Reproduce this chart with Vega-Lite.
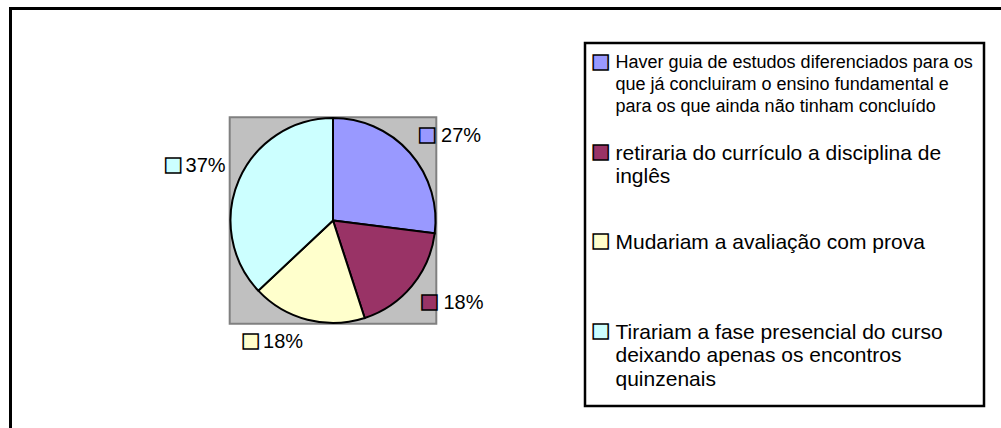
{
  "$schema": "https://vega.github.io/schema/vega-lite/v6.json",
  "background": "white",
  "padding": {"left": 7, "top": 5, "right": 0, "bottom": 0},
  "bounds": "flush",
  "spacing": 61,
  "config": {"view": {"stroke": null}, "font": "Liberation Sans", "text": {"font": "Liberation Sans"}},
  "datasets": {
    "respostas": [
      {"item": "Haver guia de estudos diferenciados para os\nque já concluiram o ensino fundamental e\npara os que ainda não tinham concluído", "pct": 0.27, "rank": 1},
      {"item": "retiraria do currículo a disciplina de\ninglês", "pct": 0.18, "rank": 2},
      {"item": "Mudariam a avaliação com prova", "pct": 0.18, "rank": 3},
      {"item": "Tirariam a fase presencial do curso\ndeixando apenas os encontros\nquinzenais", "pct": 0.37, "rank": 4}
    ]
  },
  "hconcat": [
    {
      "width": 382,
      "height": 355,
      "data": {"name": "respostas"},
      "layer": [
        {
          "data": {"values": [{"edge": "top"}]},
          "mark": {"type": "rule", "stroke": "black", "strokeWidth": 3, "clip": false},
          "encoding": {"x": {"value": -133}, "x2": {"value": 859.5}, "y": {"value": -34.5}}
        },
        {
          "data": {"values": [{"edge": "left"}]},
          "mark": {"type": "rule", "stroke": "black", "strokeWidth": 3, "clip": false},
          "encoding": {"x": {"value": -131.5}, "y": {"value": -36}, "y2": {"value": 385.5}}
        },
        {
          "data": {"values": [{"plot": "area"}]},
          "mark": {"type": "point", "shape": "square", "size": 42684, "filled": true, "fill": "#C0C0C0", "stroke": "#808080", "strokeWidth": 2, "opacity": 1},
          "encoding": {}
        },
        {
          "mark": {"type": "arc", "outerRadius": 102.5, "stroke": "black", "strokeWidth": 2},
          "encoding": {
            "theta": {"field": "pct", "type": "quantitative", "stack": true},
            "order": {"field": "rank", "type": "quantitative"},
            "color": {"field": "rank", "type": "nominal", "scale": {"domain": [1, 2, 3, 4], "range": ["#9999FF", "#993366", "#FFFFCC", "#CCFFFF"]}, "legend": null}
          }
        },
        {
          "mark": {"type": "text", "text": "■", "radius": 116, "fontSize": 31, "stroke": "black", "strokeWidth": 1.5, "baseline": "middle", "align": "center",
            "dx": {"expr": "sin(PI*(datum.pct_start+datum.pct_end)) > 0 ? 7 : -53.5"},
            "dy": {"expr": "cos(PI*(datum.pct_start+datum.pct_end)) > 0 ? -8 : 9"}},
          "encoding": {
            "theta": {"field": "pct", "type": "quantitative", "stack": true},
            "order": {"field": "rank", "type": "quantitative"},
            "color": {"field": "rank", "type": "nominal", "scale": {"domain": [1, 2, 3, 4], "range": ["#9999FF", "#993366", "#FFFFCC", "#CCFFFF"]}, "legend": null}
          }
        },
        {
          "mark": {"type": "text", "radius": 116, "fontSize": 20, "fill": "black", "baseline": "middle",
            "align": {"expr": "sin(PI*(datum.pct_start+datum.pct_end)) > 0 ? 'left' : 'right'"},
            "dx": {"expr": "sin(PI*(datum.pct_start+datum.pct_end)) > 0 ? 21 : -1"},
            "dy": {"expr": "cos(PI*(datum.pct_start+datum.pct_end)) > 0 ? -8 : 9"}},
          "encoding": {
            "theta": {"field": "pct", "type": "quantitative", "stack": true},
            "order": {"field": "rank", "type": "quantitative"},
            "text": {"field": "pct", "type": "quantitative", "format": ".0%"}
          }
        }
      ]
    },
    {
      "width": 399,
      "height": 363,
      "view": {"stroke": "black", "strokeWidth": 2.5, "fill": "white"},
      "data": {"name": "respostas"},
      "encoding": {
        "y": {"field": "rank", "type": "quantitative", "scale": {"domain": [0.773, 4.833], "reverse": true}, "axis": null}
      },
      "layer": [
        {
          "mark": {"type": "text", "text": "■", "fontSize": 31, "stroke": "black", "strokeWidth": 1.5, "baseline": "middle", "align": "center", "dx": -184},
          "encoding": {
            "color": {"field": "rank", "type": "nominal", "scale": {"domain": [1, 2, 3, 4], "range": ["#9999FF", "#993366", "#FFFFCC", "#CCFFFF"]}, "legend": null}
          }
        },
        {
          "transform": [{"filter": "datum.rank == 1"}],
          "mark": {"type": "text", "fontSize": 18, "lineHeight": 22, "lineBreak": "\n", "align": "left", "baseline": "alphabetic", "dx": -169, "dy": 5, "fill": "black"},
          "encoding": {"text": {"field": "item", "type": "nominal"}}
        },
        {
          "transform": [{"filter": "datum.rank > 1"}],
          "mark": {"type": "text", "fontSize": 21, "lineHeight": 23.5, "lineBreak": "\n", "align": "left", "baseline": "alphabetic", "dx": -169, "dy": 7, "fill": "black"},
          "encoding": {"text": {"field": "item", "type": "nominal"}}
        }
      ]
    }
  ]
}
